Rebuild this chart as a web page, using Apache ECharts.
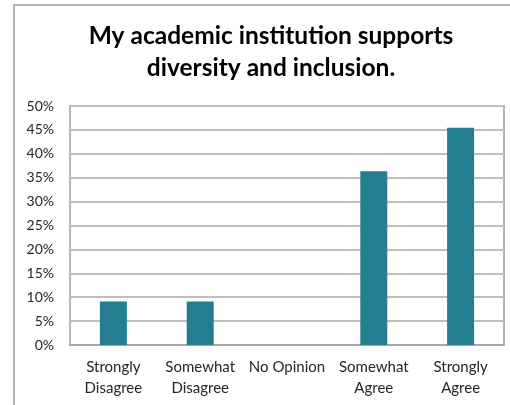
<!DOCTYPE html>
<html>
<head>
<meta charset="utf-8">
<script src="https://cdn.jsdelivr.net/npm/echarts@6/dist/echarts.min.js"></script>
<style>
  html, body { margin: 0; padding: 0; background: #fff; }
  #chart { width: 510px; height: 405px; }
</style>
</head>
<body>
<div id="chart"></div>
<script>
// Survey responses (share of respondents, %)
const categories = ['Strongly\nDisagree', 'Somewhat\nDisagree', 'No Opinion', 'Somewhat\nAgree', 'Strongly\nAgree'];
const shares = [9.09, 9.09, 0, 36.36, 45.45];
const yTicks = { min: 0, max: 50, step: 5 };
const titleText = 'My academic institution supports\ndiversity and inclusion.';

const chart = echarts.init(document.getElementById('chart'), null, { renderer: 'canvas' });

chart.setOption({
  animation: false,
  backgroundColor: '#ffffff',
  title: {
    text: titleText,
    left: 266,
    textAlign: 'center',
    top: 15,
    textStyle: {
      fontFamily: 'Lato',
      fontWeight: 'bold',
      fontSize: 24.5,
      lineHeight: 32,
      color: '#000000'
    }
  },
  graphic: [{
    type: 'polyline',
    shape: { points: [[14, 410], [14, 5], [515, 5]] },
    style: { stroke: '#b3b3b3', lineWidth: 2, fill: null },
    silent: true
  }],
  grid: {
    left: 70, right: 6, top: 106, bottom: 60,
    show: true,
    borderColor: '#b5b5b5',
    borderWidth: 2,
    containLabel: false
  },
  xAxis: {
    type: 'category',
    data: categories,
    axisTick: { show: false },
    axisLine: { show: true, lineStyle: { color: '#a8a8a8', width: 2 } },
    axisLabel: {
      interval: 0,
      margin: 12,
      fontFamily: 'Lato',
      fontSize: 15,
      lineHeight: 21,
      color: '#262626'
    }
  },
  yAxis: {
    type: 'value',
    min: yTicks.min,
    max: yTicks.max,
    interval: yTicks.step,
    axisLine: { show: false },
    axisTick: { show: false },
    splitLine: { show: true, lineStyle: { color: '#bebebe', width: 2 } },
    axisLabel: {
      margin: 16,
      fontFamily: 'Lato',
      fontSize: 14,
      color: '#262626',
      formatter: v => v + '%'
    }
  },
  series: [{
    type: 'bar',
    data: shares,
    barWidth: 27,
    itemStyle: { color: '#237f8f' }
  }]
});
</script>
</body>
</html>
